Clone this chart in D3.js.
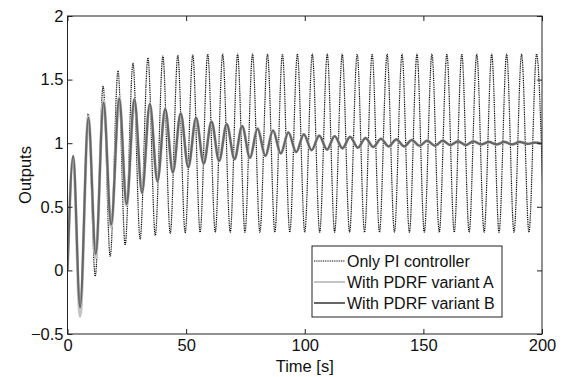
<!DOCTYPE html>
<html>
<head>
<meta charset="utf-8">
<script src="https://cdn.jsdelivr.net/npm/d3@7"></script>
<style>
  body { margin: 0; background: #fff; }
  svg { font-family: "Liberation Sans", Arial, sans-serif; }
</style>
</head>
<body>
<svg id="chart"></svg>
<script>
// Only PI controller: times and values of the peaks and troughs
const piPeakT = [2.4, 8.7, 15.0, 21.3, 27.6, 33.9, 40.2, 46.5, 52.8, 59.1, 65.4, 71.7, 78.0, 84.3, 90.6, 96.9,
  103.2, 109.5, 115.8, 122.1, 128.4, 134.7, 141.0, 147.3, 153.6, 159.9, 166.2, 172.5, 178.8, 185.1, 191.4, 197.7]
const piPeakV = [0.90, 1.23, 1.45, 1.57, 1.63, 1.67, 1.685, 1.69, 1.695, 1.70, 1.70, 1.70, 1.70, 1.70, 1.70, 1.70,
  1.70, 1.70, 1.70, 1.70, 1.70, 1.70, 1.70, 1.70, 1.70, 1.70, 1.70, 1.70, 1.70, 1.70, 1.70, 1.70]
const piTroughT = [5.3, 11.7, 18.0, 24.3, 30.6, 37.0, 43.3, 49.6, 55.9, 62.3, 68.6, 74.8, 81.1, 87.4, 93.7, 100.0,
  106.3, 112.6, 118.9, 125.2, 131.5, 137.8, 144.1, 150.4, 156.7, 163.0, 169.3, 175.6, 181.9, 188.2, 194.5, 200.8]
const piTroughV = [-0.29, -0.045, 0.11, 0.20, 0.245, 0.275, 0.29, 0.295, 0.30, 0.30, 0.30, 0.30, 0.30, 0.30, 0.30, 0.30,
  0.30, 0.30, 0.30, 0.30, 0.30, 0.30, 0.30, 0.30, 0.30, 0.30, 0.30, 0.30, 0.30, 0.30, 0.30, 0.30]

// PDRF variants (A and B share extremum times)
const pdrfPeakT = [2.4, 8.8, 15.2, 21.8, 28.2, 34.7, 41.2, 47.7, 54.2, 60.7, 67.1, 73.6, 80.1, 86.6, 93.1, 99.6,
  106.1, 112.6, 119.1, 125.6, 132.1, 138.6, 145.1, 151.6, 158.1, 164.6, 171.1, 177.6, 184.1, 190.6, 197.1]
const pdrfTroughT = [5.3, 11.9, 18.4, 24.9, 31.4, 37.9, 44.4, 50.9, 57.4, 63.9, 70.4, 76.9, 83.4, 89.9, 96.4, 102.9,
  109.4, 115.9, 122.4, 128.9, 135.4, 141.9, 148.4, 154.9, 161.4, 167.9, 174.4, 180.9, 187.4, 193.9, 200.4]
const bPeakV = [0.90, 1.20, 1.32, 1.35, 1.345, 1.31, 1.27, 1.235, 1.20, 1.17, 1.15, 1.135, 1.115, 1.10, 1.085, 1.07,
  1.06, 1.055, 1.05, 1.04, 1.035, 1.03, 1.025, 1.02, 1.02, 1.015, 1.015, 1.01, 1.01, 1.01, 1.005]
const bTroughV = [-0.29, 0.13, 0.36, 0.52, 0.61, 0.70, 0.77, 0.81, 0.84, 0.86, 0.875, 0.885, 0.90, 0.92, 0.93, 0.945,
  0.95, 0.96, 0.965, 0.97, 0.975, 0.975, 0.98, 0.98, 0.985, 0.985, 0.99, 0.99, 0.99, 0.995, 0.995]
const aPeakV = [0.89, 1.21, 1.34, 1.36, 1.345, 1.31, 1.27, 1.235, 1.20, 1.17, 1.15, 1.135, 1.115, 1.10, 1.085, 1.07,
  1.06, 1.055, 1.05, 1.04, 1.035, 1.03, 1.025, 1.02, 1.02, 1.015, 1.015, 1.01, 1.01, 1.01, 1.005]
const aTroughV = [-0.36, 0.10, 0.34, 0.51, 0.61, 0.70, 0.77, 0.81, 0.84, 0.86, 0.875, 0.885, 0.90, 0.92, 0.93, 0.945,
  0.95, 0.96, 0.965, 0.97, 0.975, 0.975, 0.98, 0.98, 0.985, 0.985, 0.99, 0.99, 0.99, 0.995, 0.995]

const xTicks = [0, 50, 100, 150, 200]
const yTicks = [-0.5, 0, 0.5, 1, 1.5, 2]
const legendNames = ['Only PI controller', 'With PDRF variant A', 'With PDRF variant B']

// join start point + peaks + troughs into one sorted series
function series(pt, pv, tt, tv) {
  const pts = [[0, 0]]
  pt.forEach((t, i) => pts.push([t, pv[i]]))
  tt.forEach((t, i) => pts.push([t, tv[i]]))
  return pts.sort((a, b) => a[0] - b[0])
}

const lines = [
  { name: legendNames[0], data: series(piPeakT, piPeakV, piTroughT, piTroughV), color: '#000', width: 1.2, dash: '1,0.8' },
  { name: legendNames[1], data: series(pdrfPeakT, aPeakV, pdrfTroughT, aTroughV), color: '#c4c4c4', width: 3, dash: null },
  { name: legendNames[2], data: series(pdrfPeakT, bPeakV, pdrfTroughT, bTroughV), color: '#666', width: 2.2, dash: null }
]

const W = 565, H = 377
const m = { left: 67.5, right: 23, top: 16, bottom: 43 }
const fs = '16.5px'

const svg = d3.select('#chart').attr('width', W).attr('height', H)

const x = d3.scaleLinear().domain([0, 200]).range([m.left, W - m.right])
const y = d3.scaleLinear().domain([-0.5, 2]).range([H - m.bottom, m.top])

svg.append('defs').append('clipPath').attr('id', 'clip')
  .append('rect')
  .attr('x', m.left).attr('y', m.top)
  .attr('width', x(200) - m.left).attr('height', y(-0.5) - m.top)

// Draw lines
const line = d3.line().x(d => x(d[0])).y(d => y(d[1])).curve(d3.curveMonotoneX)

svg.append('g').attr('clip-path', 'url(#clip)')
  .selectAll('path')
  .data(lines)
  .join('path')
  .attr('d', d => line(d.data))
  .attr('fill', 'none')
  .attr('stroke', d => d.color)
  .attr('stroke-width', d => d.width)
  .attr('stroke-dasharray', d => d.dash)
  .attr('stroke-linejoin', 'round')

// Axes, MATLAB style with ticks pointing inward on all sides
const styleAxis = g => {
  g.select('.domain').remove()
  g.selectAll('line').attr('stroke', '#222')
  g.selectAll('text').attr('fill', '#111').style('font-size', fs)
}

svg.append('g')
  .attr('transform', `translate(0,${y(-0.5)})`)
  .call(d3.axisBottom(x).tickValues(xTicks).tickSize(-5).tickPadding(5))
  .call(styleAxis)

svg.append('g')
  .attr('transform', `translate(0,${y(2)})`)
  .call(d3.axisTop(x).tickValues(xTicks).tickSize(-5).tickFormat(''))
  .call(styleAxis)

svg.append('g')
  .attr('transform', `translate(${x(0)},0)`)
  .call(d3.axisLeft(y).tickValues(yTicks).tickSize(-5).tickPadding(4).tickFormat(d3.format('')))
  .call(styleAxis)

svg.append('g')
  .attr('transform', `translate(${x(200)},0)`)
  .call(d3.axisRight(y).tickValues(yTicks).tickSize(-5).tickFormat(''))
  .call(styleAxis)

svg.append('rect')
  .attr('x', x(0)).attr('y', y(2))
  .attr('width', x(200) - x(0)).attr('height', y(-0.5) - y(2))
  .attr('fill', 'none').attr('stroke', '#222').attr('stroke-width', 1)

// Axis titles
svg.append('text')
  .attr('x', (x(0) + x(200)) / 2).attr('y', 372)
  .attr('text-anchor', 'middle').style('font-size', fs).attr('fill', '#111')
  .text('Time [s]')

svg.append('text')
  .attr('transform', `translate(31,${(y(-0.5) + y(2)) / 2}) rotate(-90)`)
  .attr('text-anchor', 'middle').style('font-size', fs).attr('fill', '#111')
  .text('Outputs')

// Legend
const leg = svg.append('g').attr('transform', 'translate(312,246)')
leg.append('rect')
  .attr('width', 190).attr('height', 71)
  .attr('fill', '#fff').attr('stroke', '#222').attr('stroke-width', 1)

const item = leg.selectAll('g.item')
  .data(lines)
  .join('g')
  .attr('class', 'item')
  .attr('transform', (d, i) => `translate(0,${15 + i * 21})`)

item.append('line')
  .attr('x1', 2).attr('x2', 33)
  .attr('stroke', d => d.color)
  .attr('stroke-width', d => Math.min(d.width, 2))
  .attr('stroke-dasharray', d => d.dash)

item.append('text')
  .attr('x', 35).attr('dy', '0.36em')
  .style('font-size', '16px').attr('fill', '#111')
  .text(d => d.name)
</script>
</body>
</html>
